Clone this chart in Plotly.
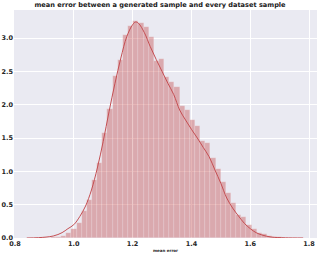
import plotly.graph_objects as go

# Histogram (density)
bin_start = 0.887
bin_width = 0.0175
density = [0.001, 0.003, 0.008, 0.015, 0.03, 0.07, 0.14, 0.22, 0.40, 0.57,
           0.87, 1.13, 1.58, 1.94, 2.43, 2.67, 3.05, 3.18, 3.25, 3.23,
           3.17, 3.02, 2.65, 2.69, 2.42, 2.34, 2.27, 1.98, 1.92, 1.77,
           1.68, 1.45, 1.42, 1.20, 1.04, 0.84, 0.67, 0.52, 0.34, 0.32,
           0.19, 0.13, 0.07, 0.06, 0.035, 0.02, 0.012, 0.006, 0.003, 0.001]

# KDE curve
kde_x = [0.84, 0.88, 0.93, 0.96, 0.98, 1.00, 1.02, 1.04, 1.06, 1.08, 1.10,
         1.12, 1.14, 1.16, 1.18, 1.20, 1.21, 1.22, 1.24, 1.26, 1.28, 1.30,
         1.32, 1.34, 1.36, 1.38, 1.40, 1.42, 1.44, 1.46, 1.48, 1.50, 1.52,
         1.54, 1.56, 1.58, 1.60, 1.62, 1.64, 1.67, 1.72, 1.78]
kde_y = [0.0, 0.005, 0.03, 0.08, 0.14, 0.2, 0.32, 0.48, 0.72, 1.05, 1.45,
         1.9, 2.32, 2.7, 3.02, 3.2, 3.24, 3.22, 3.08, 2.87, 2.68, 2.5,
         2.32, 2.15, 1.92, 1.77, 1.63, 1.5, 1.36, 1.22, 1.02, 0.82, 0.6,
         0.45, 0.33, 0.22, 0.14, 0.08, 0.045, 0.015, 0.003, 0.0]

x_ticks = [0.8, 1.0, 1.2, 1.4, 1.6, 1.8]
y_ticks = [0.0, 0.5, 1.0, 1.5, 2.0, 2.5, 3.0]

centers = [bin_start + bin_width * (i + 0.5) for i in range(len(density))]

fig = go.Figure()
fig.add_trace(go.Bar(
    x=centers, y=density, width=bin_width,
    marker=dict(color="rgba(196,78,82,0.42)",
                line=dict(color="rgba(255,255,255,0.35)", width=0.5)),
    hoverinfo="skip", showlegend=False))
fig.add_trace(go.Scatter(
    x=kde_x, y=kde_y, mode="lines", line=dict(color="#c44e52", width=1, shape="spline"),
    showlegend=False))

tickfont = dict(family="DejaVu Sans", size=6.5, color="#262626")
fig.update_layout(
    width=320, height=253,
    margin=dict(l=14, r=3, t=10, b=15),
    paper_bgcolor="white", plot_bgcolor="#EAEAF2",
    bargap=0,
    title=dict(text="<b>mean error between a generated sample and every dataset sample</b>",
               x=0.5, xanchor="center", y=0.99, yanchor="top",
               font=dict(family="DejaVu Sans", size=6.6, color="#1a1a1a")),
    xaxis=dict(range=[0.7966, 1.827], tickvals=x_ticks,
               ticktext=["<b>%.1f</b>" % v for v in x_ticks],
               tickfont=tickfont, showgrid=True, gridcolor="white", gridwidth=1,
               zeroline=False, showline=False, ticks="", automargin=False,
               title=dict(text="<b>mean error</b>", font=dict(family="DejaVu Sans", size=4, color="#262626"),
                          standoff=2)),
    yaxis=dict(range=[0, 3.42], tickvals=y_ticks,
               ticktext=["<b>%.1f</b>" % v for v in y_ticks],
               tickfont=tickfont, showgrid=True, gridcolor="white", gridwidth=1,
               zeroline=False, showline=False, ticks="", automargin=False),
)
fig.write_html("out.html", config={"displayModeBar": False},
               post_script="document.body.style.margin='0';document.body.style.overflow='hidden';")
